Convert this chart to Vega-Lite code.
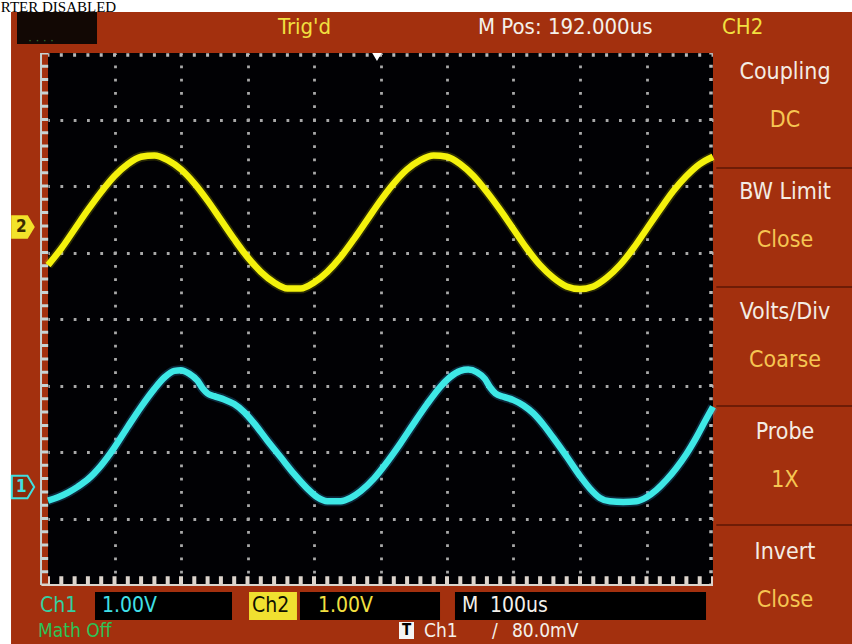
{
  "$schema": "https://vega.github.io/schema/vega-lite/v6.json",
  "width": 665,
  "height": 532,
  "autosize": {"type": "none"},
  "padding": {"left": 48, "top": 53, "right": 139, "bottom": 59},
  "background": "#a3300e",
  "config": {
    "view": {"fill": "#010104", "stroke": null},
    "axis": {"labels": false, "ticks": false, "domain": false, "titleOpacity": 0, "grid": true, "gridColor": "#a8a8a8", "gridWidth": 2.8, "gridDash": [2.8, 10.5], "gridDashOffset": 1.4}
  },
  "datasets": {
    "ch2": [
      {"t": 0.0, "v": 0.81}, {"t": 0.2, "v": 1.06}, {"t": 0.4, "v": 1.35}, {"t": 0.6, "v": 1.64}, {"t": 0.8, "v": 1.91},
      {"t": 1.0, "v": 2.15}, {"t": 1.2, "v": 2.33}, {"t": 1.4, "v": 2.44}, {"t": 1.6, "v": 2.46}, {"t": 1.8, "v": 2.39},
      {"t": 2.0, "v": 2.25}, {"t": 2.2, "v": 2.04}, {"t": 2.4, "v": 1.78}, {"t": 2.6, "v": 1.49}, {"t": 2.8, "v": 1.20},
      {"t": 3.0, "v": 0.93}, {"t": 3.2, "v": 0.71}, {"t": 3.4, "v": 0.55}, {"t": 3.6, "v": 0.46}, {"t": 3.8, "v": 0.46},
      {"t": 4.0, "v": 0.55}, {"t": 4.2, "v": 0.71}, {"t": 4.4, "v": 0.93}, {"t": 4.6, "v": 1.20}, {"t": 4.8, "v": 1.49},
      {"t": 5.0, "v": 1.78}, {"t": 5.2, "v": 2.04}, {"t": 5.4, "v": 2.25}, {"t": 5.6, "v": 2.39}, {"t": 5.8, "v": 2.46},
      {"t": 6.0, "v": 2.44}, {"t": 6.2, "v": 2.33}, {"t": 6.4, "v": 2.15}, {"t": 6.6, "v": 1.91}, {"t": 6.8, "v": 1.64},
      {"t": 7.0, "v": 1.35}, {"t": 7.2, "v": 1.06}, {"t": 7.4, "v": 0.81}, {"t": 7.6, "v": 0.62}, {"t": 7.8, "v": 0.49},
      {"t": 8.0, "v": 0.45}, {"t": 8.2, "v": 0.49}, {"t": 8.4, "v": 0.62}, {"t": 8.6, "v": 0.81}, {"t": 8.8, "v": 1.06},
      {"t": 9.0, "v": 1.35}, {"t": 9.2, "v": 1.64}, {"t": 9.4, "v": 1.92}, {"t": 9.6, "v": 2.15}, {"t": 9.8, "v": 2.33},
      {"t": 10.0, "v": 2.44}
    ],
    "ch1": [
      {"t": 0.0, "v": -2.73}, {"t": 0.15, "v": -2.68}, {"t": 0.3, "v": -2.61}, {"t": 0.45, "v": -2.52}, {"t": 0.6, "v": -2.41},
      {"t": 0.8, "v": -2.2}, {"t": 1.0, "v": -1.93}, {"t": 1.2, "v": -1.62}, {"t": 1.4, "v": -1.32}, {"t": 1.6, "v": -1.05},
      {"t": 1.75, "v": -0.88}, {"t": 1.9, "v": -0.78}, {"t": 2.0, "v": -0.77}, {"t": 2.12, "v": -0.82}, {"t": 2.25, "v": -0.93},
      {"t": 2.33, "v": -1.05}, {"t": 2.4, "v": -1.12}, {"t": 2.5, "v": -1.16}, {"t": 2.65, "v": -1.21}, {"t": 2.8, "v": -1.28},
      {"t": 2.95, "v": -1.4}, {"t": 3.1, "v": -1.57}, {"t": 3.3, "v": -1.83}, {"t": 3.5, "v": -2.08}, {"t": 3.7, "v": -2.33},
      {"t": 3.9, "v": -2.55}, {"t": 4.05, "v": -2.68}, {"t": 4.2, "v": -2.74}, {"t": 4.4, "v": -2.74}, {"t": 4.55, "v": -2.69},
      {"t": 4.7, "v": -2.59}, {"t": 4.9, "v": -2.4}, {"t": 5.1, "v": -2.15}, {"t": 5.3, "v": -1.87}, {"t": 5.5, "v": -1.57},
      {"t": 5.7, "v": -1.28}, {"t": 5.9, "v": -1.02}, {"t": 6.05, "v": -0.87}, {"t": 6.2, "v": -0.78}, {"t": 6.32, "v": -0.76},
      {"t": 6.45, "v": -0.8}, {"t": 6.57, "v": -0.9}, {"t": 6.65, "v": -1.03}, {"t": 6.73, "v": -1.12}, {"t": 6.85, "v": -1.17},
      {"t": 7.0, "v": -1.22}, {"t": 7.15, "v": -1.3}, {"t": 7.3, "v": -1.42}, {"t": 7.45, "v": -1.59}, {"t": 7.6, "v": -1.79},
      {"t": 7.8, "v": -2.07}, {"t": 8.0, "v": -2.36}, {"t": 8.15, "v": -2.55}, {"t": 8.3, "v": -2.69}, {"t": 8.45, "v": -2.74},
      {"t": 8.65, "v": -2.75}, {"t": 8.85, "v": -2.74}, {"t": 9.0, "v": -2.68}, {"t": 9.15, "v": -2.57}, {"t": 9.3, "v": -2.42},
      {"t": 9.45, "v": -2.24}, {"t": 9.6, "v": -2.03}, {"t": 9.75, "v": -1.78}, {"t": 9.9, "v": -1.5}, {"t": 10.0, "v": -1.32}
    ]
  },
  "data": {"values": [{}]},
  "layer": [
    {"mark": {"type": "rect", "color": "#ffffff"}, "encoding": {"x": {"datum": -0.73}, "x2": {"datum": 12.1}, "y": {"datum": 4.8}, "y2": {"datum": 4.617}}},
    {"mark": {"type": "rect", "color": "#ffffff"}, "encoding": {"x": {"datum": -0.73}, "x2": {"datum": -0.556}, "y": {"datum": 4.8}, "y2": {"datum": -4.9}}},
    {"mark": {"type": "text", "text": "RTER DISABLED", "align": "left", "baseline": "alphabetic", "font": "Liberation Serif", "fontSize": 15, "color": "#000000"}, "encoding": {"x": {"datum": -0.71}, "y": {"datum": 4.624}}},
    {"mark": {"type": "rect", "color": "#120804"}, "encoding": {"x": {"datum": -0.466}, "x2": {"datum": 0.737}, "y": {"datum": 4.617}, "y2": {"datum": 4.135}}},
    {"mark": {"type": "text", "text": "· · · ·", "align": "left", "baseline": "middle", "fontSize": 12, "color": "#3a7a34"}, "encoding": {"x": {"datum": -0.3}, "y": {"datum": 4.2}}},
    {"mark": {"type": "rect", "color": "#000000"}, "encoding": {"x": {"datum": 0.707}, "x2": {"datum": 2.767}, "y": {"datum": -4.105}, "y2": {"datum": -4.526}}},
    {"mark": {"type": "rect", "color": "#f0e030"}, "encoding": {"x": {"datum": 3.023}, "x2": {"datum": 3.744}, "y": {"datum": -4.105}, "y2": {"datum": -4.526}}},
    {"mark": {"type": "rect", "color": "#000000"}, "encoding": {"x": {"datum": 3.789}, "x2": {"datum": 5.895}, "y": {"datum": -4.105}, "y2": {"datum": -4.526}}},
    {"mark": {"type": "rect", "color": "#000000"}, "encoding": {"x": {"datum": 6.12}, "x2": {"datum": 9.895}, "y": {"datum": -4.105}, "y2": {"datum": -4.526}}},
    {"mark": {"type": "rect", "color": "#f4f4f4"}, "encoding": {"x": {"datum": 5.278}, "x2": {"datum": 5.504}, "y": {"datum": -4.556}, "y2": {"datum": -4.812}}},
    {"mark": {"type": "rule", "color": "#6e1c06", "strokeWidth": 2}, "encoding": {"x": {"datum": 10.05}, "x2": {"datum": 12.1}, "y": {"datum": 2.271}}},
    {"mark": {"type": "rule", "color": "#6e1c06", "strokeWidth": 2}, "encoding": {"x": {"datum": 10.05}, "x2": {"datum": 12.1}, "y": {"datum": 0.481}}},
    {"mark": {"type": "rule", "color": "#6e1c06", "strokeWidth": 2}, "encoding": {"x": {"datum": 10.05}, "x2": {"datum": 12.1}, "y": {"datum": -1.308}}},
    {"mark": {"type": "rule", "color": "#6e1c06", "strokeWidth": 2}, "encoding": {"x": {"datum": 10.05}, "x2": {"datum": 12.1}, "y": {"datum": -3.098}}},
    {"mark": {"type": "rule", "color": "#b8b8b8", "strokeWidth": 3.5, "strokeDash": [3, 10.3], "strokeDashOffset": 1.5}, "encoding": {"x": {"datum": 0}, "x2": {"datum": 10}, "y": {"datum": 3.97}}},
    {"mark": {"type": "rule", "color": "#b8b8b8", "strokeWidth": 3.5, "strokeDash": [3, 10.3], "strokeDashOffset": 1.5}, "encoding": {"x": {"datum": 9.97}, "y": {"datum": 4}, "y2": {"datum": -4}}},
    {"mark": {"type": "rule", "color": "#c8d0d0", "strokeWidth": 2}, "encoding": {"x": {"datum": -0.105}, "y": {"datum": 4}, "y2": {"datum": -4}}},
    {"mark": {"type": "rule", "color": "#c8d4d4", "strokeWidth": 7, "strokeDash": [3, 10.3], "strokeDashOffset": 1.5}, "encoding": {"x": {"datum": -0.05}, "y": {"datum": 4}, "y2": {"datum": -4}}},
    {"mark": {"type": "rule", "color": "#dcd4cc", "strokeWidth": 2}, "encoding": {"x": {"datum": -0.1}, "x2": {"datum": 10}, "y": {"datum": -4.0}}},
    {"mark": {"type": "rule", "color": "#dcd4cc", "strokeWidth": 8, "strokeDash": [4, 9.3], "strokeDashOffset": 2}, "encoding": {"x": {"datum": 0}, "x2": {"datum": 10}, "y": {"datum": -3.93}}},
    {
      "data": {"name": "ch2"},
      "mark": {"type": "line", "interpolate": "monotone", "color": "#f0f000", "strokeWidth": 10, "opacity": 0.18},
      "encoding": {
        "x": {"field": "t", "type": "quantitative", "scale": {"domain": [0, 10], "nice": false, "zero": false}, "axis": {"values": [1, 2, 3, 4, 5, 6, 7, 8, 9], "title": null}},
        "y": {"field": "v", "type": "quantitative", "scale": {"domain": [-4, 4], "nice": false, "zero": false}, "axis": {"values": [-3, -2, -1, 0, 1, 2, 3], "title": null}}
      }
    },
    {"data": {"name": "ch2"}, "mark": {"type": "line", "interpolate": "monotone", "color": "#f4f20c", "strokeWidth": 6.5}, "encoding": {"x": {"field": "t", "type": "quantitative"}, "y": {"field": "v", "type": "quantitative"}}},
    {"data": {"name": "ch1"}, "mark": {"type": "line", "interpolate": "monotone", "color": "#30a0e0", "strokeWidth": 10, "opacity": 0.25}, "encoding": {"x": {"field": "t", "type": "quantitative"}, "y": {"field": "v", "type": "quantitative"}}},
    {"data": {"name": "ch1"}, "mark": {"type": "line", "interpolate": "monotone", "color": "#3ee8e6", "strokeWidth": 6.5}, "encoding": {"x": {"field": "t", "type": "quantitative"}, "y": {"field": "v", "type": "quantitative"}}},
    {"mark": {"type": "point", "shape": "M-1,-1L0.4,-1L1,0L0.4,1L-1,1Z", "size": 560, "filled": true, "color": "#f2e22a", "opacity": 1}, "encoding": {"x": {"datum": -0.376}, "y": {"datum": 1.383}}},
    {"mark": {"type": "text", "text": "2", "align": "center", "baseline": "middle", "fontSize": 17, "fontWeight": "bold", "font": "DejaVu Sans Condensed", "color": "#3a2a00"}, "encoding": {"x": {"datum": -0.4}, "y": {"datum": 1.383}}},
    {"mark": {"type": "point", "shape": "M-1,-1L0.4,-1L1,0L0.4,1L-1,1Z", "size": 500, "filled": true, "color": "#8a2a0c", "stroke": "#40e0e0", "strokeWidth": 2, "opacity": 1}, "encoding": {"x": {"datum": -0.376}, "y": {"datum": -2.526}}},
    {"mark": {"type": "text", "text": "1", "align": "center", "baseline": "middle", "fontSize": 17, "fontWeight": "bold", "font": "DejaVu Sans Condensed", "color": "#40e0e0"}, "encoding": {"x": {"datum": -0.4}, "y": {"datum": -2.526}}},
    {"mark": {"type": "point", "shape": "triangle-down", "size": 90, "filled": true, "color": "#ffffff", "opacity": 1}, "encoding": {"x": {"datum": 4.947}, "y": {"datum": 3.94}}},
    {"mark": {"type": "text", "text": "Trig'd", "align": "left", "baseline": "middle", "fontSize": 22, "font": "DejaVu Sans Condensed", "color": "#f2e040"}, "encoding": {"x": {"datum": 3.459}, "y": {"datum": 4.391}}},
    {"mark": {"type": "text", "text": "M Pos: 192.000us", "align": "left", "baseline": "middle", "fontSize": 22, "font": "DejaVu Sans Condensed", "color": "#f4f0ea"}, "encoding": {"x": {"datum": 6.466}, "y": {"datum": 4.391}}},
    {"mark": {"type": "text", "text": "CH2", "align": "left", "baseline": "middle", "fontSize": 22, "font": "DejaVu Sans Condensed", "color": "#f2e040"}, "encoding": {"x": {"datum": 10.135}, "y": {"datum": 4.391}}},
    {"mark": {"type": "text", "text": "Coupling", "align": "center", "baseline": "middle", "fontSize": 23, "font": "DejaVu Sans Condensed", "color": "#f4ece4"}, "encoding": {"x": {"datum": 11.083}, "y": {"datum": 3.714}}},
    {"mark": {"type": "text", "text": "DC", "align": "center", "baseline": "middle", "fontSize": 23, "font": "DejaVu Sans Condensed", "color": "#f6c552"}, "encoding": {"x": {"datum": 11.083}, "y": {"datum": 2.992}}},
    {"mark": {"type": "text", "text": "BW  Limit", "align": "center", "baseline": "middle", "fontSize": 23, "font": "DejaVu Sans Condensed", "color": "#f4ece4"}, "encoding": {"x": {"datum": 11.083}, "y": {"datum": 1.91}}},
    {"mark": {"type": "text", "text": "Close", "align": "center", "baseline": "middle", "fontSize": 23, "font": "DejaVu Sans Condensed", "color": "#f6c552"}, "encoding": {"x": {"datum": 11.083}, "y": {"datum": 1.188}}},
    {"mark": {"type": "text", "text": "Volts/Div", "align": "center", "baseline": "middle", "fontSize": 23, "font": "DejaVu Sans Condensed", "color": "#f4ece4"}, "encoding": {"x": {"datum": 11.083}, "y": {"datum": 0.105}}},
    {"mark": {"type": "text", "text": "Coarse", "align": "center", "baseline": "middle", "fontSize": 23, "font": "DejaVu Sans Condensed", "color": "#f6c552"}, "encoding": {"x": {"datum": 11.083}, "y": {"datum": -0.617}}},
    {"mark": {"type": "text", "text": "Probe", "align": "center", "baseline": "middle", "fontSize": 23, "font": "DejaVu Sans Condensed", "color": "#f4ece4"}, "encoding": {"x": {"datum": 11.083}, "y": {"datum": -1.699}}},
    {"mark": {"type": "text", "text": "1X", "align": "center", "baseline": "middle", "fontSize": 23, "font": "DejaVu Sans Condensed", "color": "#f6c552"}, "encoding": {"x": {"datum": 11.083}, "y": {"datum": -2.421}}},
    {"mark": {"type": "text", "text": "Invert", "align": "center", "baseline": "middle", "fontSize": 23, "font": "DejaVu Sans Condensed", "color": "#f4ece4"}, "encoding": {"x": {"datum": 11.083}, "y": {"datum": -3.504}}},
    {"mark": {"type": "text", "text": "Close", "align": "center", "baseline": "middle", "fontSize": 23, "font": "DejaVu Sans Condensed", "color": "#f6c552"}, "encoding": {"x": {"datum": 11.083}, "y": {"datum": -4.226}}},
    {"mark": {"type": "text", "text": "Ch1", "align": "left", "baseline": "middle", "fontSize": 21, "font": "DejaVu Sans Condensed", "color": "#34cfa0"}, "encoding": {"x": {"datum": -0.12}, "y": {"datum": -4.316}}},
    {"mark": {"type": "text", "text": "1.00V", "align": "left", "baseline": "middle", "fontSize": 21, "font": "DejaVu Sans Condensed", "color": "#40e0e8"}, "encoding": {"x": {"datum": 0.812}, "y": {"datum": -4.316}}},
    {"mark": {"type": "text", "text": "Ch2", "align": "left", "baseline": "middle", "fontSize": 21, "font": "DejaVu Sans Condensed", "color": "#101000"}, "encoding": {"x": {"datum": 3.068}, "y": {"datum": -4.316}}},
    {"mark": {"type": "text", "text": "1.00V", "align": "left", "baseline": "middle", "fontSize": 21, "font": "DejaVu Sans Condensed", "color": "#f2e040"}, "encoding": {"x": {"datum": 4.06}, "y": {"datum": -4.316}}},
    {"mark": {"type": "text", "text": "M", "align": "left", "baseline": "middle", "fontSize": 21, "font": "DejaVu Sans Condensed", "color": "#f4f0ea"}, "encoding": {"x": {"datum": 6.226}, "y": {"datum": -4.316}}},
    {"mark": {"type": "text", "text": "100us", "align": "left", "baseline": "middle", "fontSize": 21, "font": "DejaVu Sans Condensed", "color": "#f4f0ea"}, "encoding": {"x": {"datum": 6.647}, "y": {"datum": -4.316}}},
    {"mark": {"type": "text", "text": "Math Off", "align": "left", "baseline": "middle", "fontSize": 19, "font": "DejaVu Sans Condensed", "color": "#2cc456"}, "encoding": {"x": {"datum": -0.15}, "y": {"datum": -4.692}}},
    {"mark": {"type": "text", "text": "T", "align": "center", "baseline": "middle", "fontSize": 15, "fontWeight": "bold", "font": "DejaVu Sans Condensed", "color": "#000000"}, "encoding": {"x": {"datum": 5.391}, "y": {"datum": -4.684}}},
    {"mark": {"type": "text", "text": "Ch1", "align": "left", "baseline": "middle", "fontSize": 19, "font": "DejaVu Sans Condensed", "color": "#f4f0ea"}, "encoding": {"x": {"datum": 5.654}, "y": {"datum": -4.692}}},
    {"mark": {"type": "text", "text": "/", "align": "left", "baseline": "middle", "fontSize": 19, "font": "DejaVu Sans Condensed", "color": "#f4f0ea"}, "encoding": {"x": {"datum": 6.677}, "y": {"datum": -4.692}}},
    {"mark": {"type": "text", "text": "80.0mV", "align": "left", "baseline": "middle", "fontSize": 19, "font": "DejaVu Sans Condensed", "color": "#f4f0ea"}, "encoding": {"x": {"datum": 6.977}, "y": {"datum": -4.692}}}
  ]
}
